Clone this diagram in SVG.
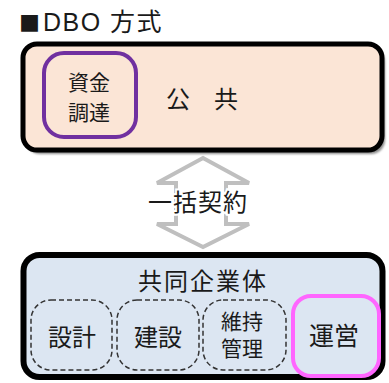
<svg xmlns="http://www.w3.org/2000/svg" width="389" height="383" viewBox="0 0 389 383">
<defs>
<style>
.t{font-family:"Liberation Sans","Noto Sans CJK JP",sans-serif;fill:#1a1a1a}
.j{font-family:"Noto Sans CJK JP","Liberation Sans",sans-serif;fill:#1a1a1a;text-anchor:middle}
.m{font-family:"Liberation Sans","Noto Sans CJK JP",sans-serif;fill:#1a1a1a;text-anchor:middle}
.dash{fill:none;stroke:#333;stroke-width:1.5;stroke-dasharray:5 3}
</style>
<filter id="blur" x="-10%" y="-10%" width="120%" height="130%"><feGaussianBlur stdDeviation="1.2"/></filter>
</defs>
<g id="title">
<text x="19" y="31" font-size="21" font-family="Noto Sans CJK JP, Liberation Sans, sans-serif" fill="#1a1a1a">■</text>
<text class="t" x="43" y="31" font-size="25" letter-spacing="1.5">DBO 方式</text>
</g>
<g id="public">
<rect x="26" y="48" width="359" height="106" rx="14" fill="#8a8a8a" filter="url(#blur)"/>
<rect x="23" y="44" width="359" height="106" rx="14" fill="#fbe5d6" stroke="#000" stroke-width="5"/>
<text class="j" x="202" y="108" font-size="24">公　共</text>
</g>
<g id="finance">
<rect x="44" y="53" width="92" height="84" rx="20" fill="none" stroke="#7030a0" stroke-width="4"/>
<text class="j" x="89" y="90" font-size="21">資金</text>
<text class="j" x="89" y="120" font-size="21">調達</text>
</g>
<g id="connectors">
<path d="M203,158 L249,183 L226,183 L226,224 L249,224 L203,247 L157,224 L176,224 L176,183 L157,183 Z" fill="#fff" stroke="#bfbfbf" stroke-width="4" stroke-linejoin="miter"/>
<text class="j" x="198" y="211" font-size="24" letter-spacing="1" stroke="#fff" stroke-width="4" paint-order="stroke">一括契約</text>
</g>
<g id="jv">
<rect x="23.5" y="255" width="359" height="122" rx="16" fill="#dce6f2" stroke="#000" stroke-width="6"/>
<text class="j" x="203" y="290" font-size="24" letter-spacing="2">共同企業体</text>
</g>
<g id="design">
<rect x="31" y="300" width="81" height="70" rx="20" class="dash"/>
<text class="j" x="72" y="346" font-size="24">設計</text>
</g>
<g id="construct">
<rect x="117" y="300" width="82" height="70" rx="20" class="dash"/>
<text class="j" x="158" y="346" font-size="24">建設</text>
</g>
<g id="maintain">
<rect x="203" y="300" width="83" height="70" rx="20" class="dash"/>
<text class="m" x="242" y="329" font-size="21">維持</text>
<text class="m" x="242" y="356" font-size="21">管理</text>
</g>
<g id="operate">
<rect x="293" y="296" width="86" height="80" rx="18" fill="none" stroke="#ff66ff" stroke-width="4"/>
<text class="j" x="334" y="345" font-size="25">運営</text>
</g>
</svg>
